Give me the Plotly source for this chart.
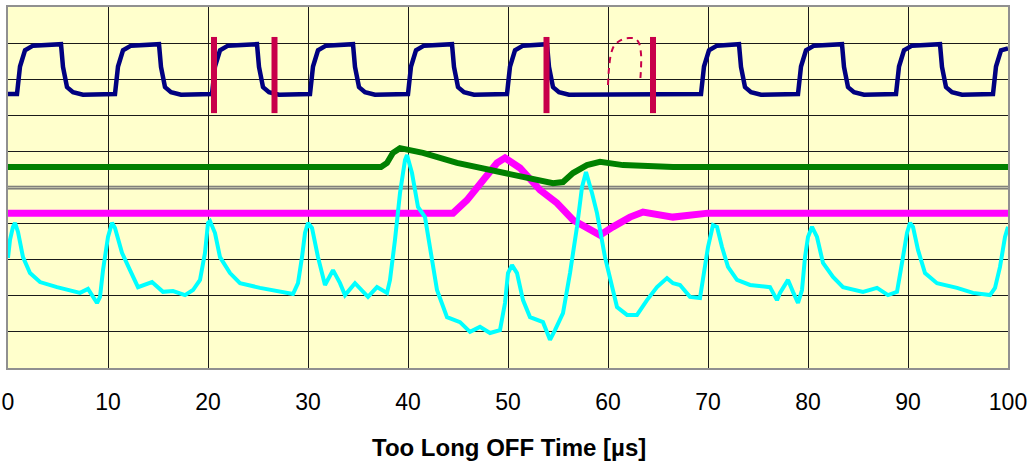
import plotly.graph_objects as go

# ---------------- data ----------------
# Time axis in microseconds, vertical in screen divisions (0 bottom .. 10 top)

blue_t = [0, 0.9, 1.2, 1.7, 2.5, 5.3, 5.5, 5.9, 6.5, 7.5,
          10.7, 11.0, 11.5, 12.3, 15.1, 15.3, 15.7, 16.3, 17.3,
          20.4, 20.7, 21.2, 22.0, 24.9, 25.1, 25.5, 26.1, 27.1,
          30.2, 30.5, 31.0, 31.8, 34.5, 34.7, 35.1, 35.7, 36.7,
          40.0, 40.3, 40.8, 41.6, 44.4, 44.6, 45.0, 45.6, 46.6,
          49.9, 50.2, 50.7, 51.5, 53.9, 54.1, 54.5, 55.1, 56.1, 62.0,
          69.3, 69.6, 70.1, 70.9, 73.1, 73.3, 73.7, 74.3, 75.3,
          79.0, 79.3, 79.8, 80.6, 83.4, 83.6, 84.0, 84.6, 85.6,
          88.8, 89.1, 89.6, 90.4, 93.2, 93.4, 93.8, 94.4, 95.4,
          98.5, 98.8, 99.3, 100]
blue_v = [7.59, 7.59, 8.35, 8.80, 8.93, 8.97, 8.34, 7.78, 7.64, 7.57,
          7.59, 8.35, 8.80, 8.93, 8.97, 8.34, 7.78, 7.64, 7.57,
          7.59, 8.35, 8.80, 8.93, 8.97, 8.34, 7.78, 7.64, 7.57,
          7.59, 8.35, 8.80, 8.93, 8.97, 8.34, 7.78, 7.64, 7.57,
          7.59, 8.35, 8.80, 8.93, 8.97, 8.34, 7.78, 7.64, 7.57,
          7.59, 8.35, 8.80, 8.93, 8.97, 8.34, 7.78, 7.64, 7.57, 7.58,
          7.59, 8.35, 8.80, 8.93, 8.97, 8.34, 7.78, 7.64, 7.57,
          7.59, 8.35, 8.80, 8.93, 8.97, 8.34, 7.78, 7.64, 7.57,
          7.59, 8.35, 8.80, 8.93, 8.97, 8.34, 7.78, 7.64, 7.57,
          7.59, 8.35, 8.80, 8.85]

green_t = [0, 37.3, 37.9, 38.5, 39.2, 41.5, 44.9, 48.2, 51.9, 54.5,
           55.5, 56.5, 57.9, 59.2, 61.5, 66.5, 100]
green_v = [5.57, 5.57, 5.68, 5.96, 6.09, 5.96, 5.68, 5.48, 5.29, 5.12,
           5.15, 5.40, 5.62, 5.71, 5.62, 5.57, 5.57]

magenta_t = [0, 44.5, 45.9, 47.5, 48.9, 49.7, 51.2, 53.2, 54.9, 56.5,
             58.2, 59.2, 60.5, 62.2, 63.5, 66.5, 70, 100]
magenta_v = [4.29, 4.29, 4.65, 5.21, 5.68, 5.82, 5.54, 4.93, 4.57, 4.10,
             3.82, 3.68, 3.91, 4.18, 4.32, 4.18, 4.29, 4.29]

cyan_t = [0, 0.2, 0.5, 0.7, 1.0, 1.5, 2.2, 3.2, 4.9, 7.2, 8.0, 8.5, 8.9, 9.2,
          9.5, 10.0, 10.4, 10.7, 11.4, 12.2, 13.0, 14.4, 15.5, 16.5, 17.7,
          18.5, 19.2, 19.7, 20.0, 20.2, 20.7, 21.2, 22.2, 23.2, 25.2, 28.5,
          29.0, 29.4, 29.7, 30.0, 30.4, 31.0, 31.7, 32.5, 33.2, 33.7, 34.7,
          36.0, 36.9, 37.9, 38.2, 38.7, 39.2, 39.7, 39.9, 40.4, 41.0, 41.7,
          42.2, 42.9, 43.9, 45.2, 46.2, 47.2, 48.2, 49.2, 49.7, 50.0, 50.4,
          50.9, 51.5, 52.2, 53.5, 54.2, 54.7, 55.5, 56.2, 56.9, 57.4, 57.8,
          58.4, 58.9, 59.7, 60.4, 60.9, 61.9, 62.9, 63.9, 64.9, 65.9, 66.5,
          67.2, 68.2, 69.2, 69.5, 70.0, 70.5, 70.9, 71.4, 72.0, 72.9, 74.2,
          76.2, 76.9, 77.2, 78.0, 78.5, 79.0, 79.4, 79.7, 80.0, 80.4, 80.9,
          81.5, 82.5, 83.5, 85.5, 86.9, 88.0, 88.9, 89.4, 89.9, 90.2, 90.5,
          91.0, 91.7, 92.9, 94.9, 96.5, 98.2, 98.7, 99.2, 99.7, 100]
cyan_v = [3.05, 3.55, 3.91, 4.02, 3.77, 3.07, 2.63, 2.38, 2.24, 2.08, 2.19,
          1.97, 1.80, 1.97, 2.71, 3.63, 4.02, 3.88, 3.19, 2.71, 2.24, 2.38,
          2.11, 2.13, 2.02, 2.16, 2.44, 3.19, 4.02, 4.07, 3.74, 3.07, 2.63,
          2.35, 2.22, 2.05, 2.35, 3.07, 3.74, 4.02, 3.88, 3.07, 2.30, 2.71,
          2.35, 2.02, 2.35, 1.97, 2.24, 2.08, 2.44, 3.55, 4.85, 5.76, 5.90,
          5.40, 4.46, 4.18, 3.27, 2.16, 1.41, 1.27, 1.00, 1.14, 0.97, 1.05,
          1.80, 2.63, 2.85, 2.63, 1.88, 1.41, 1.27, 0.78, 1.05, 1.52, 2.63,
          3.91, 5.01, 5.43, 4.85, 4.29, 3.07, 2.24, 1.69, 1.47, 1.47, 1.88,
          2.24, 2.49, 2.35, 2.30, 1.97, 1.94, 2.44, 3.35, 3.96, 3.91, 3.35,
          2.80, 2.44, 2.30, 2.24, 1.88, 2.08, 2.44, 2.11, 1.80, 2.16, 3.07,
          3.63, 3.91, 3.63, 2.91, 2.52, 2.24, 2.11, 2.22, 2.02, 2.11, 2.91,
          3.74, 4.02, 3.91, 3.27, 2.63, 2.35, 2.22, 2.08, 2.02, 2.22, 2.80,
          3.63, 3.91]

# red measurement markers (hand annotations)
marker_times = [20.6, 26.65, 53.85, 64.5]
marker_span = [7.06, 9.17]

# dashed "?" sketch
sketch_t = [60.0, 60.1, 60.3, 60.6, 61.1, 61.6, 62.1, 62.7, 63.1, 63.3, 63.3, 63.2]
sketch_v = [7.84, 8.30, 8.70, 8.92, 9.05, 9.12, 9.14, 9.13, 9.00, 8.70, 8.30, 7.89]

x_ticks = [0, 10, 20, 30, 40, 50, 60, 70, 80, 90, 100]
y_grid = [1, 2, 3, 4, 6, 7, 8, 9]
x_title = "Too Long OFF Time [µs]"

# ---------------- figure ----------------
fig = go.Figure()

fig.add_trace(go.Scatter(x=magenta_t, y=magenta_v, mode="lines",
                         line=dict(color="#FF00FF", width=7), hoverinfo="skip"))
fig.add_trace(go.Scatter(x=green_t, y=green_v, mode="lines",
                         line=dict(color="#008000", width=6), hoverinfo="skip"))
fig.add_trace(go.Scatter(x=cyan_t, y=cyan_v, mode="lines",
                         line=dict(color="#00FFFF", width=4), hoverinfo="skip"))
fig.add_trace(go.Scatter(x=blue_t, y=blue_v, mode="lines",
                         line=dict(color="#000080", width=4.5), hoverinfo="skip"))

for t in marker_times:
    fig.add_trace(go.Scatter(x=[t, t], y=marker_span, mode="lines",
                             line=dict(color="#C8004A", width=6), hoverinfo="skip"))

fig.add_trace(go.Scatter(x=sketch_t, y=sketch_v, mode="lines",
                         line=dict(color="#C8004A", width=2, dash="6px,5px", shape="spline"),
                         hoverinfo="skip"))

# double rule across the middle of the screen
fig.add_shape(type="rect", xref="x", yref="y", x0=0, x1=100, y0=4.955, y1=5.04,
              fillcolor="#BDBDA8", line=dict(width=0), layer="below")
for yv in (4.96, 5.035):
    fig.add_shape(type="line", xref="x", yref="y", x0=0, x1=100, y0=yv, y1=yv,
                  line=dict(color="#6E6E6E", width=1.2), layer="below")

fig.add_annotation(text="<b>" + x_title + "</b>", xref="paper", yref="paper",
                   x=0.501, y=-0.219, xanchor="center", yanchor="middle",
                   showarrow=False,
                   font=dict(family="Liberation Sans, Arial, sans-serif", size=24,
                             color="#000000"))

fig.update_layout(
    width=1029, height=461,
    margin=dict(l=8, r=21, t=7, b=93, autoexpand=False),
    paper_bgcolor="#FFFFFF",
    plot_bgcolor="#FFFFCC",
    showlegend=False,
    hovermode=False,
    font=dict(family="Liberation Sans, Arial, sans-serif", size=23, color="#000000"),
)
fig.update_xaxes(range=[0, 100], tickvals=x_ticks, ticktext=[str(v) for v in x_ticks],
                 showgrid=True, gridcolor="#1A1A1A", gridwidth=1, automargin=False,
                 zeroline=False, showline=True, linecolor="#909090", linewidth=2,
                 mirror=True, ticks="", ticklabelstandoff=12,
                 ticklabeloverflow="allow", tickfont=dict(size=23))
fig.update_yaxes(range=[0, 10], tickvals=y_grid, showticklabels=False,
                 showgrid=True, gridcolor="#1A1A1A", gridwidth=1, automargin=False,
                 zeroline=False, showline=True, linecolor="#909090", linewidth=1.5,
                 mirror=True, ticks="")

# remove the default 8px page margin so the figure sits at the window corner
fig.write_html("out.html", config={"displayModeBar": False},
               post_script="document.body.style.margin='0';")
